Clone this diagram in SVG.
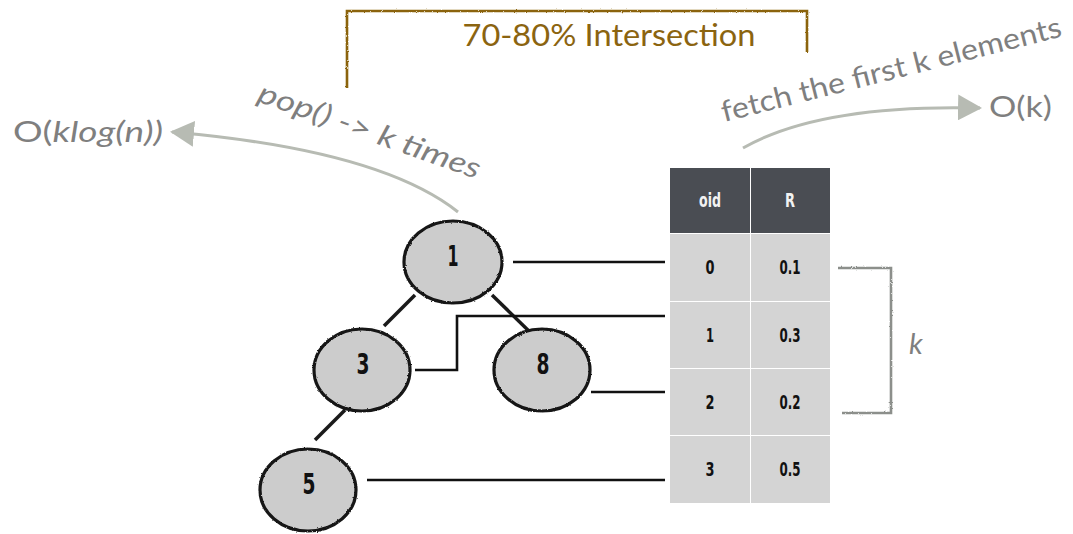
<svg xmlns="http://www.w3.org/2000/svg" width="1073" height="534" viewBox="0 0 1073 534">
  <defs>
    <filter id="rough" x="-10%" y="-10%" width="120%" height="120%">
      <feTurbulence type="fractalNoise" baseFrequency="0.8" numOctaves="2" seed="3" result="n"/>
      <feDisplacementMap in="SourceGraphic" in2="n" scale="2.2" xChannelSelector="R" yChannelSelector="G"/>
    </filter>
    <marker id="grayHead" viewBox="0 0 24 26" refX="22" refY="13" markerWidth="24" markerHeight="26" markerUnits="userSpaceOnUse" orient="auto">
      <path d="M0,0 L24,13 L0,26 Z" fill="#b7bbb3"/>
    </marker>
  </defs>
  <style>
    .node ellipse { fill: #cccccc; stroke: #161616; stroke-width: 3.2; }
    .nlabel { font-family: "DejaVu Sans Condensed", "DejaVu Sans", sans-serif; font-weight: bold; font-size: 28px; fill: #111; text-anchor: middle; }
    .edge { stroke: #1a1a1a; stroke-width: 3.5; fill: none; }
    .link { stroke: #111; stroke-width: 2.6; fill: none; }
    .flow { stroke: #b7bbb3; stroke-width: 3; fill: none; }
    .note { font-family: Lato, "Noto Sans", sans-serif; fill: #7f7f7f; font-size: 29px; }
    .cell { font-family: "DejaVu Sans Condensed", "DejaVu Sans", sans-serif; font-weight: bold; font-size: 20px; text-anchor: middle; }
    .hdr { fill: #4a4d53; }
    .row { fill: #d4d4d4; }
  </style>

  <!-- bracket over the top with its caption -->
  <g id="intersection" filter="url(#rough)">
    <path d="M347,88 L347,11 L807,11 L807,52" fill="none" stroke="#8b6410" stroke-width="2.6"/>
  </g>
  <text x="609" y="46" font-family="Lato, 'Noto Sans', sans-serif" font-size="30" fill="#8b6410" text-anchor="middle" textLength="293" lengthAdjust="spacingAndGlyphs">70-80% Intersection</text>

  <!-- connectors -->
  <g id="connectors">
    <!-- heap tree edges -->
    <line class="edge" x1="415" y1="295" x2="384" y2="326"/>
    <line class="edge" x1="492" y1="295" x2="533" y2="335"/>
    <line class="edge" x1="345" y1="410" x2="315" y2="440"/>
    <!-- heap entries to table rows -->
    <path class="link" d="M513,262 L665,262"/>
    <path class="link" d="M415,370 L457,370 L457,316 L665,316"/>
    <path class="link" d="M591,392 L665,392"/>
    <path class="link" d="M367,480 L665,480"/>
    <!-- cost arrows -->
    <path class="flow" d="M458,212 Q380,150 172,132" marker-end="url(#grayHead)"/>
    <path class="flow" d="M743,148 Q820,104 980,108" marker-end="url(#grayHead)"/>
  </g>

  <!-- heap nodes -->
  <g id="node-1" class="node">
    <ellipse cx="453" cy="262" rx="49" ry="41" filter="url(#rough)"/>
    <text class="nlabel" x="453" y="266" textLength="11" lengthAdjust="spacingAndGlyphs">1</text>
  </g>
  <g id="node-3" class="node">
    <ellipse cx="362" cy="370" rx="48" ry="41" filter="url(#rough)"/>
    <text class="nlabel" x="363" y="374" textLength="13" lengthAdjust="spacingAndGlyphs">3</text>
  </g>
  <g id="node-8" class="node">
    <ellipse cx="542" cy="370" rx="48" ry="41" filter="url(#rough)"/>
    <text class="nlabel" x="543" y="374" textLength="13" lengthAdjust="spacingAndGlyphs">8</text>
  </g>
  <g id="node-5" class="node">
    <ellipse cx="308" cy="490" rx="48" ry="41" filter="url(#rough)"/>
    <text class="nlabel" x="309" y="494" textLength="13" lengthAdjust="spacingAndGlyphs">5</text>
  </g>

  <!-- result table -->
  <g id="table">
    <rect class="hdr" x="670" y="168" width="80" height="65"/>
    <rect class="hdr" x="751" y="168" width="79" height="65"/>
    <rect class="row" x="670" y="234" width="80" height="67"/>
    <rect class="row" x="751" y="234" width="79" height="67"/>
    <rect class="row" x="670" y="302" width="80" height="66"/>
    <rect class="row" x="751" y="302" width="79" height="66"/>
    <rect class="row" x="670" y="369" width="80" height="66"/>
    <rect class="row" x="751" y="369" width="79" height="66"/>
    <rect class="row" x="670" y="436" width="80" height="67"/>
    <rect class="row" x="751" y="436" width="79" height="67"/>
    <text class="cell" x="710" y="207" fill="#f2f2f2" textLength="22" lengthAdjust="spacingAndGlyphs">oid</text>
    <text class="cell" x="790" y="207" fill="#f2f2f2" textLength="10" lengthAdjust="spacingAndGlyphs">R</text>
    <text class="cell" x="710" y="274" fill="#111" textLength="9" lengthAdjust="spacingAndGlyphs">0</text>
    <text class="cell" x="790" y="274" fill="#111" textLength="21" lengthAdjust="spacingAndGlyphs">0.1</text>
    <text class="cell" x="710" y="342" fill="#111" textLength="8" lengthAdjust="spacingAndGlyphs">1</text>
    <text class="cell" x="790" y="342" fill="#111" textLength="21" lengthAdjust="spacingAndGlyphs">0.3</text>
    <text class="cell" x="710" y="409" fill="#111" textLength="9" lengthAdjust="spacingAndGlyphs">2</text>
    <text class="cell" x="790" y="409" fill="#111" textLength="21" lengthAdjust="spacingAndGlyphs">0.2</text>
    <text class="cell" x="710" y="476" fill="#111" textLength="9" lengthAdjust="spacingAndGlyphs">3</text>
    <text class="cell" x="790" y="476" fill="#111" textLength="21" lengthAdjust="spacingAndGlyphs">0.5</text>
  </g>

  <!-- k bracket -->
  <g id="k-bracket">
    <path d="M838,268 L891,268 L891,413 L842,413" fill="none" stroke="#8c8f8b" stroke-width="2.6" filter="url(#rough)"/>
    <text class="note" x="909" y="354" font-style="italic" font-size="28">k</text>
  </g>

  <!-- cost labels -->
  <g id="pop-cost">
    <text class="note" x="13" y="142" font-size="31" textLength="150" lengthAdjust="spacingAndGlyphs">O(<tspan font-style="italic">klog(n))</tspan></text>
    <text class="note" x="0" y="0" font-style="italic" font-size="28" transform="translate(256,101) rotate(19.5)" textLength="234" lengthAdjust="spacingAndGlyphs">pop() -&gt; k times</text>
  </g>
  <g id="fetch-cost">
    <text class="note" x="989" y="117" font-size="30" textLength="63" lengthAdjust="spacingAndGlyphs">O(k)</text>
    <text class="note" x="0" y="0" font-size="28" transform="translate(724,122) rotate(-14.2)" textLength="350" lengthAdjust="spacingAndGlyphs">fetch the first k elements</text>
  </g>
</svg>
